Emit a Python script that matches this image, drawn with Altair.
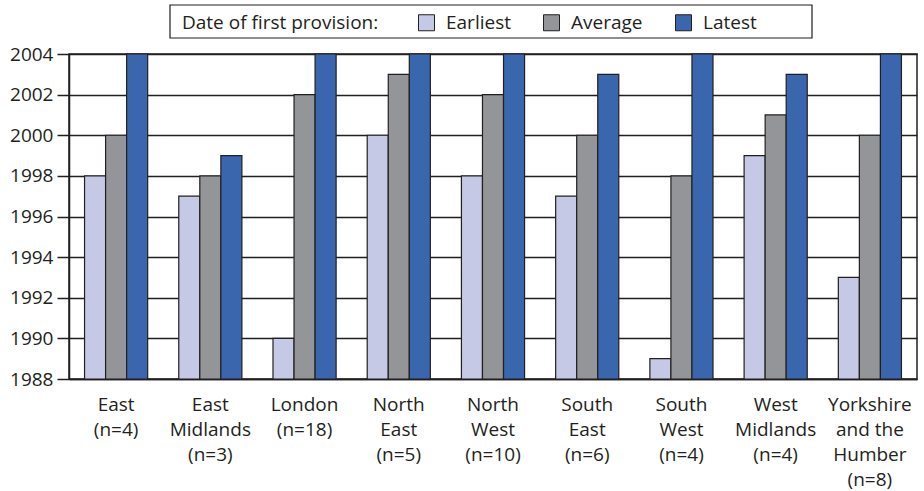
import altair as alt
import pandas as pd

regions = ["East|(n=4)", "East|Midlands|(n=3)", "London|(n=18)", "North|East|(n=5)",
           "North|West|(n=10)", "South|East|(n=6)", "South|West|(n=4)",
           "West|Midlands|(n=4)", "Yorkshire|and the|Humber|(n=8)"]
earliest = [1998, 1997, 1990, 2000, 1998, 1997, 1989, 1999, 1993]
average = [2000, 1998, 2002, 2003, 2002, 2000, 1998, 2001, 2000]
latest = [2004, 1999, 2004, 2004, 2004, 2003, 2004, 2003, 2004]
series = ["Earliest", "Average", "Latest"]
colors = ["#c5c9e6", "#939598", "#3a66ae"]

rows = []
for i, r in enumerate(regions):
    for s, vals in zip(series, [earliest, average, latest]):
        rows.append({"region": r, "series": s, "year": vals[i]})
df = pd.DataFrame(rows)

FONT = "Open Sans"
FS = 19
INK = "#231f20"

bars = alt.Chart(df).mark_bar(stroke=INK, strokeWidth=1.2).encode(
    x=alt.X("region:N", sort=regions, title=None,
            scale=alt.Scale(paddingInner=0.33, paddingOuter=0.165),
            axis=alt.Axis(labelAngle=0, labelExpr="split(datum.label, '|')",
                          labelPadding=16, ticks=False, labelFontSize=FS,
                          labelLineHeight=25, labelBaseline="top")),
    xOffset=alt.XOffset("series:N", sort=series,
                        scale=alt.Scale(paddingInner=0, paddingOuter=0)),
    y=alt.Y("year:Q", title=None,
            scale=alt.Scale(domain=[1988, 2004], zero=False, nice=False),
            axis=alt.Axis(values=list(range(1988, 2005, 2)), format="d",
                          labelFontSize=FS, tickSize=12, labelPadding=4,
                          grid=True, gridColor=INK, gridWidth=1.5,
                          tickColor=INK, tickWidth=1.5)),
    y2=alt.datum(1988),
    fill=alt.Fill("series:N", sort=series,
                  scale=alt.Scale(domain=series, range=colors),
                  legend=alt.Legend(orient="none", legendX=113, legendY=-41,
                                    direction="horizontal",
                                    title="Date of first provision:",
                                    titleOrient="left", titleFontSize=FS,
                                    titleFontWeight="normal", titlePadding=38,
                                    titleLimit=500, labelLimit=300,
                                    labelFontSize=FS, symbolType="square",
                                    symbolSize=256, symbolStrokeColor=INK,
                                    symbolStrokeWidth=1, columnPadding=30,
                                    labelOffset=10, padding=0)),
)

legend_box = alt.Chart(pd.DataFrame({"k": [0]})).mark_rect(
    fill="white", stroke=INK, strokeWidth=1.2, clip=False
).encode(
    x=alt.value(101), x2=alt.value(743), y=alt.value(-49), y2=alt.value(-16)
)

chart = alt.layer(legend_box, bars).properties(
    width=848, height=325,
    autosize=alt.AutoSizeParams(type="none"),
    padding={"left": 69, "top": 54, "right": 7, "bottom": 112},
).configure_view(
    stroke=INK, strokeWidth=1.5
).configure_axis(
    labelFont=FONT, titleFont=FONT, labelColor=INK,
    domainColor=INK, domainWidth=1.5
).configure_legend(
    labelFont=FONT, titleFont=FONT, labelColor=INK, titleColor=INK
)

chart.save("out.html", embed_options={"renderer": "svg", "actions": False})
